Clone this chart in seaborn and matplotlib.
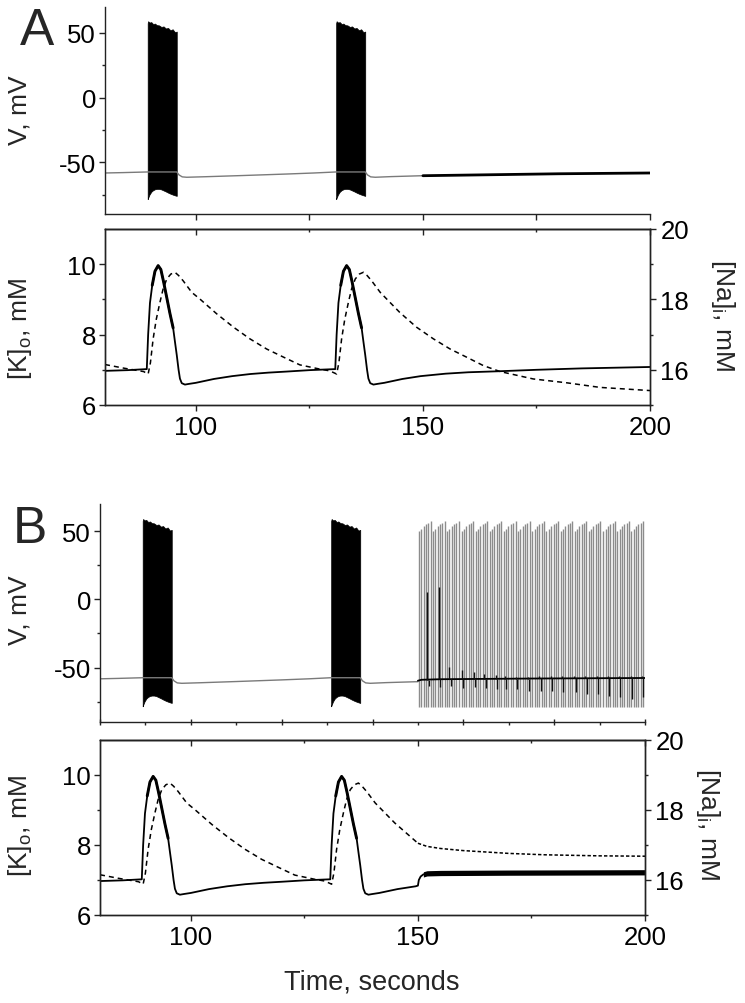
import numpy as np
import pandas as pd
import matplotlib
matplotlib.use("Agg")
import matplotlib.pyplot as plt
import seaborn as sns
from matplotlib.ticker import FixedLocator, NullFormatter

sns.set_theme(style="ticks")
plt.rcParams["font.family"] = ["Liberation Sans", "DejaVu Sans"]
plt.rcParams["mathtext.fontset"] = "custom"
plt.rcParams["mathtext.rm"] = "Liberation Sans"
plt.rcParams["mathtext.it"] = "Liberation Sans:italic"
plt.rcParams["axes.unicode_minus"] = False

# ---------------- data ----------------
time_ticks = [100, 150, 200]
time_minor = [125, 175]
v_ticks = [-50, 0, 50]
v_minor = [-75, -25, 25]
k_ticks = [6, 8, 10]
k_minor = [7, 9]
na_ticks = [16, 18, 20]
na_minor = [15, 17, 19]

# membrane potential: resting trace between bursts
rest_t = [80, 84, 89.4, 95.8, 96.3, 97.0, 98.0, 102, 110, 120, 126, 130.9,
          137.3, 137.8, 138.5, 139.5, 143, 150]
rest_v = [-58.3, -58.0, -57.5, -57.5, -59.8, -61.3, -61.6, -61.2, -60.3, -59.1, -58.3, -57.5,
          -57.5, -59.8, -61.3, -61.6, -61.1, -60.4]

# bursts (solid black blocks): start times and envelope vs. time from burst start
burst_starts = [89.4, 130.9]
burst_off = [0.0, 0.1, 0.4, 0.8, 1.2, 1.6, 2.0, 2.5, 3.0, 3.5, 4.0, 4.5, 5.0, 5.5, 6.0, 6.4]
burst_upper = [57.5, 59.0, 58.0, 58.3, 56.8, 57.2, 56.0, 55.8, 54.6, 55.0, 53.4, 53.8, 52.0, 52.8, 50.5, 51.0]
burst_lower = [-78.5, -77.5, -75.0, -72.8, -71.6, -70.9, -70.6, -70.6, -71.0, -71.8, -72.6, -73.5,
               -74.3, -75.0, -75.6, -76.0]

# panel A after t=150: quiescent trace
a_late_t = [150, 160, 170, 180, 190, 200]
a_late_v = [-60.4, -59.9, -59.4, -58.9, -58.6, -58.3]

# panel B after t=150: tonic spiking (grey), grouped in humps
hump_starts = [150.2, 153.3, 156.4, 159.6, 162.7, 165.8, 168.9, 172.0, 175.2, 178.3,
               181.4, 184.5, 187.6, 190.8, 193.9, 197.0]
hump_offsets = [0.0, 0.52, 1.04, 1.56, 2.08, 2.6]
hump_peaks = [50.0, 51.8, 53.5, 55.0, 56.3, 57.3]
tonic_trough = -79.0

# panel B after t=150: black trace with small events
b_base_t = [150, 150.8, 155, 175, 200]
b_base_v = [-59.7, -59.0, -58.6, -58.1, -57.7]
event_t = [152.4, 154.9, 157.3, 160.0, 162.6, 165.0, 167.5, 169.5, 171.9, 174.5,
           177.0, 179.6, 182.0, 184.7, 187.2, 189.7, 192.1, 194.6, 197.2, 199.6]
event_up = [5.4, 9.1, -49.6, -51.6, -53.5, -54.7, -55.4, -56.4, -56.8, -56.8,
            -56.6, -56.6, -56.5, -56.5, -56.4, -56.4, -56.3, -56.3, -56.2, -56.2]
event_dip = [-63.4, -64.5, -63.4, -65.0, -64.5, -65.0, -65.8, -65.8, -65.8, -67.0,
             -67.0, -67.5, -68.2, -68.2, -69.5, -69.5, -70.7, -71.9, -73.1, -71.9]

# extracellular K (solid)
k_t = [80, 85, 89.2, 89.5, 89.9, 90.4, 91.0, 91.7, 92.3, 92.9, 93.6, 94.3, 95.0, 95.4,
       95.8, 96.2, 96.5, 96.9, 97.6, 98.5, 100, 104, 108, 112, 116, 120, 125, 130.7,
       131.0, 131.4, 131.9, 132.5, 133.2, 133.8, 134.4, 135.1, 135.8, 136.5, 136.9,
       137.3, 137.7, 138.0, 138.4, 139.1, 140.0, 141.5, 145.5, 149.5]
k_v = [6.97, 6.99, 7.02, 8.0, 8.9, 9.4, 9.8, 9.96, 9.85, 9.5, 9.05, 8.6, 8.19, 7.8,
       7.42, 7.0, 6.75, 6.62, 6.58, 6.6, 6.63, 6.74, 6.82, 6.88, 6.92, 6.95, 6.99, 7.02,
       8.0, 8.9, 9.4, 9.8, 9.96, 9.85, 9.5, 9.05, 8.6, 8.19, 7.8,
       7.42, 7.0, 6.75, 6.62, 6.58, 6.6, 6.63, 6.74, 6.82]
k_a_late_t = [155, 160, 167, 175, 185, 200]
k_a_late_v = [6.89, 6.93, 6.96, 7.0, 7.04, 7.08]
k_b_late_t = [150.0, 150.2, 150.6, 151.2, 152, 155, 170, 200]
k_b_late_v = [6.84, 7.0, 7.1, 7.16, 7.19, 7.2, 7.21, 7.22]
k_band_half = 0.075

# intracellular Na (dashed)
na_t = [80, 84, 88.5, 89.5, 90.0, 90.6, 91.3, 92.1, 92.8, 93.6, 94.5, 95.4, 96.2, 97.2,
        99.1, 100.9, 104.6, 108.3, 111.9, 115.6, 119.3, 122.9, 127.3, 129.5, 131.0,
        131.5, 132.1, 132.8, 133.6, 134.3, 135.1, 136.0, 136.9, 137.7, 138.7, 140.6,
        144.9, 148.6]
na_v = [16.15, 16.05, 15.95, 15.88, 16.2, 16.88, 17.44, 17.92, 18.3, 18.58, 18.72, 18.77,
        18.68, 18.53, 18.2, 18.01, 17.59, 17.21, 16.88, 16.59, 16.36, 16.14, 16.02, 15.97,
        15.88, 16.2, 16.88, 17.44, 17.92, 18.3, 18.58, 18.72, 18.77, 18.68, 18.53, 18.2,
        17.63, 17.21]
na_a_late_t = [152.3, 156.0, 159.6, 163.3, 167.0, 174.3, 181.7, 189.0, 200]
na_a_late_v = [16.88, 16.59, 16.36, 16.12, 15.95, 15.74, 15.63, 15.5, 15.41]
na_b_late_t = [150.0, 152, 155, 160, 165, 170, 178, 190, 200]
na_b_late_v = [17.05, 16.96, 16.9, 16.84, 16.8, 16.76, 16.72, 16.69, 16.68]

# ---------------- figure ----------------
W, H = 745, 1004
fig = plt.figure(figsize=(W / 100, H / 100), dpi=100)


def rect(left, right, top, bottom):
    return [left / W, 1 - bottom / H, (right - left) / W, (bottom - top) / H]


SPINE = "#222222"
FS = 18.5


def base_style(ax):
    for s in ax.spines.values():
        s.set_color(SPINE)
        s.set_linewidth(1.0)
    ax.tick_params(which="both", colors=SPINE, labelcolor="black", labelsize=FS, width=1.0)
    ax.tick_params(which="major", length=4.0)
    ax.tick_params(which="minor", length=2.5)
    ax.set_xlabel("")
    ax.set_ylabel("")


def line(ax, t, y, **kw):
    df = pd.DataFrame({"t": t, "y": y})
    sns.lineplot(data=df, x="t", y="y", ax=ax, sort=False, estimator=None, legend=False, **kw)


def v_panel(ax, tonic, xmajor, xminor, xdir):
    line(ax, rest_t, rest_v, color="#7a7a7a", lw=1.0)
    for bs in burst_starts:
        ax.fill_between(np.array(burst_off) + bs, burst_lower, burst_upper,
                        color="black", lw=0.5, edgecolor="black")
    if tonic:
        sp_t = [hs + o for hs in hump_starts for o in hump_offsets]
        sp_p = [p for hs in hump_starts for p in hump_peaks]
        ax.vlines(sp_t, tonic_trough, sp_p, color="#8c8c8c", lw=1.0)
        line(ax, b_base_t, b_base_v, color="black", lw=1.3)
        base_at = np.interp(event_t, b_base_t, b_base_v)
        ax.vlines(np.array(event_t) - 0.35, base_at, event_up, color="#111111", lw=1.0)
        ax.vlines(event_t, event_dip, base_at, color="#111111", lw=1.0)
    else:
        line(ax, a_late_t, a_late_v, color="black", lw=2.0)
    ax.set_xlim(80, 200)
    ax.set_ylim(-90, 70)
    base_style(ax)
    ax.spines["top"].set_visible(False)
    ax.spines["right"].set_visible(False)
    ax.yaxis.set_major_locator(FixedLocator(v_ticks))
    ax.yaxis.set_minor_locator(FixedLocator(v_minor))
    ax.xaxis.set_major_locator(FixedLocator(xmajor))
    ax.xaxis.set_minor_locator(FixedLocator(xminor))
    ax.xaxis.set_major_formatter(NullFormatter())
    ax.tick_params(axis="y", which="both", direction="out", pad=2.5)
    ax.tick_params(axis="x", which="major", direction=xdir)
    ax.tick_params(axis="x", which="minor", direction="out")


def ion_panel(ax, late):
    if late == "A":
        kt, kv = k_t + k_a_late_t, k_v + k_a_late_v
    else:
        kt, kv = k_t + k_b_late_t, k_v + k_b_late_v
    line(ax, kt, kv, color="black", lw=1.3)
    for bs in burst_starts:
        sel = [(t, v) for t, v in zip(k_t, k_v) if bs + 0.9 <= t <= bs + 5.7]
        line(ax, [s[0] for s in sel], [s[1] for s in sel], color="black", lw=2.1)
    if late == "B":
        bt = np.array(k_b_late_t[3:])
        bv = np.array(k_b_late_v[3:])
        ax.fill_between(bt, bv - k_band_half, bv + k_band_half, color="black", lw=0)
    ax.set_xlim(80, 200)
    ax.set_ylim(6, 11)
    base_style(ax)
    ax.xaxis.set_major_locator(FixedLocator(time_ticks))
    ax.xaxis.set_minor_locator(FixedLocator(time_minor))
    ax.yaxis.set_major_locator(FixedLocator(k_ticks))
    ax.yaxis.set_minor_locator(FixedLocator(k_minor))
    ax.tick_params(axis="x", which="both", direction="out", top=False, pad=3)
    ax.tick_params(axis="y", which="both", direction="out", right=False, pad=2.5)
    sec = ax.secondary_xaxis("top")
    sec.xaxis.set_major_locator(FixedLocator(time_ticks))
    sec.xaxis.set_minor_locator(FixedLocator(time_minor))
    sec.xaxis.set_major_formatter(NullFormatter())
    sec.tick_params(which="both", direction="in", colors=SPINE, width=1.0)
    sec.tick_params(which="major", length=4.0)
    sec.tick_params(which="minor", length=2.5)
    sec.spines["top"].set_color(SPINE)
    sec.spines["top"].set_linewidth(1.0)

    ax2 = ax.twinx()
    if late == "A":
        line(ax2, na_t + na_a_late_t, na_v + na_a_late_v, color="black", lw=1.1,
             linestyle=(0, (3.3, 2.6)))
    else:
        line(ax2, na_t + [na_b_late_t[0]], na_v + [na_b_late_v[0]], color="black", lw=1.1,
             linestyle=(0, (3.3, 2.6)))
        line(ax2, na_b_late_t, na_b_late_v, color="black", lw=1.1,
             linestyle=(0, (2.2, 1.4)))
    ax2.set_ylim(15, 20)
    base_style(ax2)
    ax2.yaxis.set_major_locator(FixedLocator(na_ticks))
    ax2.yaxis.set_minor_locator(FixedLocator(na_minor))
    ax2.tick_params(axis="y", which="both", direction="out", pad=3.5)
    return ax2


# Panel A
axA1 = fig.add_axes(rect(105, 650, 8, 215))
v_panel(axA1, tonic=False, xmajor=[100, 125, 150, 175, 200], xminor=[], xdir="out")
axA2 = fig.add_axes(rect(105, 650, 230, 406))
ion_panel(axA2, "A")

# Panel B
axB1 = fig.add_axes(rect(100, 645, 505, 723))
v_panel(axB1, tonic=True, xmajor=[80, 100, 120, 140, 160, 180, 200],
        xminor=[90, 110, 130, 150, 170, 190], xdir="inout")
axB2 = fig.add_axes(rect(100, 645, 741, 916))
ion_panel(axB2, "B")

# Labels
fig.text(37 / W, 1 - 45 / H, "A", fontsize=37, ha="center", va="baseline")
fig.text(30 / W, 1 - 543 / H, "B", fontsize=37, ha="center", va="baseline")

lab = dict(fontsize=19, rotation=90, ha="center", va="center")
fig.text(20 / W, 1 - 110 / H, "V, mV", **lab)
fig.text(20 / W, 1 - 610 / H, "V, mV", **lab)
fig.text(20 / W, 1 - 329 / H, r"[K]$_\mathregular{o}$, mM", **lab)
fig.text(20 / W, 1 - 826 / H, r"[K]$_\mathregular{o}$, mM", **lab)
labr = dict(fontsize=19, rotation=270, ha="center", va="center")
fig.text(723 / W, 1 - 315 / H, r"[Na]$_\mathregular{i}$, mM", **labr)
fig.text(708 / W, 1 - 824 / H, r"[Na]$_\mathregular{i}$, mM", **labr)
fig.text(372 / W, 1 - 990 / H, "Time, seconds", fontsize=19.5, ha="center", va="baseline")

fig.savefig("out.png", dpi=100)
